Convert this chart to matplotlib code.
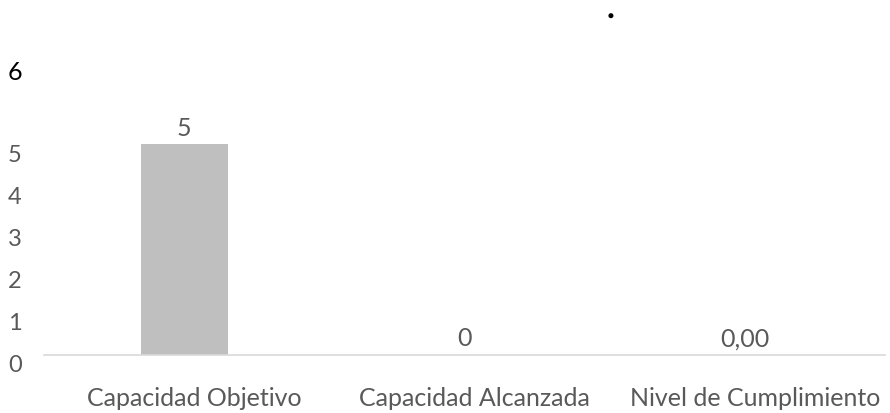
import numpy as np
import matplotlib
matplotlib.use("Agg")
import matplotlib.pyplot as plt
import matplotlib.transforms as mtransforms
import matplotlib.patheffects as pe

categories = ["Capacidad Objetivo", "Capacidad Alcanzada", "Nivel de Cumplimiento"]
values = [5, 0, 0]
value_labels = ["5", "0", "0,00"]
y_ticks = [0, 1, 2, 3, 4, 5]
y_max = 6

plt.rcParams['font.family'] = ['Lato', 'DejaVu Sans']
text_color = '#595959'

fig = plt.figure(figsize=(8.9, 4.14), dpi=100)
ax = fig.add_axes([44 / 890, 1 - 356 / 414, 841 / 890, 253 / 414])

x = np.arange(len(categories))
bars = ax.bar(x, values, width=0.31, color='#BFBFBF', zorder=2)
ax.bar_label(bars, labels=value_labels, padding=4, fontsize=18, color=text_color)

ax.set_xlim(-0.5, len(categories) - 0.5)
ax.set_ylim(0, y_max)
ax.set_xticks(x)
ax.set_xticklabels(categories, fontsize=18, color=text_color)
ax.set_yticks(y_ticks)
ax.set_yticklabels([str(v) for v in y_ticks], fontsize=17, color=text_color, ha='left')

ax.tick_params(axis='both', length=0)
ax.tick_params(axis='x', pad=22)
ax.tick_params(axis='y', pad=0)

# category labels sit slightly right of the bar centres
x_shift = mtransforms.ScaledTranslation(10 / 100, 0, fig.dpi_scale_trans)
for lbl in ax.get_xticklabels():
    lbl.set_transform(lbl.get_transform() + x_shift)

# y labels sit at the figure's left edge, a bit below their values
offset = mtransforms.ScaledTranslation(0, -8 / 100, fig.dpi_scale_trans)
for lbl in ax.get_yticklabels():
    lbl.set_transform(mtransforms.blended_transform_factory(fig.transFigure, ax.transData) + offset)
    lbl.set_x(8 / 890)

for side in ['top', 'right', 'left']:
    ax.spines[side].set_visible(False)
ax.spines['bottom'].set_color('#D9D9D9')
ax.spines['bottom'].set_linewidth(1.2)

# top "6" label and the lone title dot
fig.text(8 / 890, 1 - 72 / 414, str(y_max), fontsize=18, color='black', va='center', ha='left')
fig.text(611 / 890, 1 - 18 / 414, '.', fontsize=14, fontweight='bold', color='black',
         ha='center', va='baseline',
         path_effects=[pe.withStroke(linewidth=1.5, foreground='black')])

fig.savefig('out.png', dpi=100)
